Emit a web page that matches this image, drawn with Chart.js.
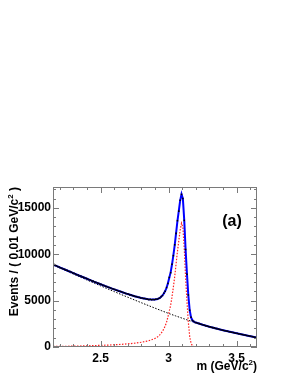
<!DOCTYPE html>
<html>
<head>
<meta charset="utf-8">
<script src="https://cdn.jsdelivr.net/npm/chart.js@4.4.1/dist/chart.umd.min.js"></script>
<style>
  html, body { margin: 0; padding: 0; background: #fff; }
  canvas { display: block; }
</style>
</head>
<body>
<canvas id="mass-chart" width="291" height="376"></canvas>
<script>
// bin centres, 0.01 GeV/c^2 wide
const massBins = [
  2.155, 2.165, 2.175, 2.185, 2.195, 2.205, 2.215, 2.225, 2.235, 2.245,
  2.255, 2.265, 2.275, 2.285, 2.295, 2.305, 2.315, 2.325, 2.335, 2.345,
  2.355, 2.365, 2.375, 2.385, 2.395, 2.405, 2.415, 2.425, 2.435, 2.445,
  2.455, 2.465, 2.475, 2.485, 2.495, 2.505, 2.515, 2.525, 2.535, 2.545,
  2.555, 2.565, 2.575, 2.585, 2.595, 2.605, 2.615, 2.625, 2.635, 2.645,
  2.655, 2.665, 2.675, 2.685, 2.695, 2.705, 2.715, 2.725, 2.735, 2.745,
  2.755, 2.765, 2.775, 2.785, 2.795, 2.805, 2.815, 2.825, 2.835, 2.845,
  2.855, 2.865, 2.875, 2.885, 2.895, 2.905, 2.915, 2.925, 2.935, 2.945,
  2.955, 2.965, 2.975, 2.985, 2.995, 3.005, 3.015, 3.025, 3.035, 3.045,
  3.055, 3.065, 3.075, 3.085, 3.095, 3.105, 3.115, 3.125, 3.135, 3.145,
  3.155, 3.165, 3.175, 3.185, 3.195, 3.205, 3.215, 3.225, 3.235, 3.245,
  3.255, 3.265, 3.275, 3.285, 3.295, 3.305, 3.315, 3.325, 3.335, 3.345,
  3.355, 3.365, 3.375, 3.385, 3.395, 3.405, 3.415, 3.425, 3.435, 3.445,
  3.455, 3.465, 3.475, 3.485, 3.495, 3.505, 3.515, 3.525, 3.535, 3.545,
  3.555, 3.565, 3.575, 3.585, 3.595, 3.605, 3.615, 3.625, 3.635, 3.645
];

// data points
const events = [
  8930, 8800, 8760, 8660, 8630, 8530, 8500, 8410, 8380, 8290,
  8260, 8160, 8130, 8070, 7980, 7940, 7880, 7790, 7760, 7660,
  7650, 7550, 7520, 7430, 7400, 7340, 7240, 7220, 7130, 7100,
  7010, 6980, 6900, 6870, 6780, 6750, 6670, 6640, 6550, 6520,
  6450, 6410, 6370, 6280, 6250, 6200, 6120, 6090, 6010, 5990,
  5950, 5870, 5840, 5770, 5740, 5700, 5620, 5610, 5540, 5510,
  5450, 5430, 5370, 5350, 5290, 5280, 5230, 5220, 5170, 5160,
  5110, 5140, 5090, 5130, 5100, 5150, 5140, 5230, 5270, 5430,
  5550, 5790, 6010, 6410, 6850, 7500, 8010, 8920, 9850, 11020,
  12250, 13620, 14650, 15820, 16450, 16020, 13650, 10510, 7850, 5610,
  3960, 3210, 2860, 2760, 2640, 2620, 2560, 2520, 2460, 2430,
  2370, 2340, 2280, 2250, 2200, 2170, 2120, 2090, 2060, 2000,
  1980, 1930, 1900, 1870, 1820, 1790, 1750, 1720, 1700, 1650,
  1620, 1580, 1560, 1520, 1490, 1470, 1420, 1400, 1360, 1340,
  1300, 1280, 1240, 1220, 1180, 1150, 1120, 1090, 1060, 1030
];

// total fit (blue)
const fitMass = [
  2.15, 2.20, 2.25, 2.30, 2.35, 2.40, 2.45, 2.50, 2.55, 2.60, 2.65, 2.70, 2.75, 2.80, 2.85,
  2.875, 2.90, 2.92, 2.935, 2.945, 2.955, 2.965, 2.975, 2.985, 2.995,
  3.005, 3.015, 3.025, 3.035, 3.045, 3.055, 3.065, 3.075, 3.085, 3.095,
  3.105, 3.115, 3.125, 3.135, 3.145, 3.155, 3.165, 3.175, 3.185,
  3.20, 3.25, 3.30, 3.35, 3.40, 3.45, 3.50, 3.55, 3.60, 3.65
];
const fitEvents = [
  8910, 8590, 8272, 7961, 7653, 7353, 7056, 6767, 6486, 6213, 5953, 5706, 5477, 5281, 5138,
  5113, 5118, 5173, 5287, 5410, 5573, 5767, 6030, 6384, 6878,
  7474, 8042, 8890, 9888, 10986, 12284, 13583, 14683, 15781, 16480,
  15980, 13680, 10480, 7880, 5580, 3982, 3185, 2878, 2741,
  2635, 2398, 2185, 1990, 1805, 1635, 1475, 1320, 1165, 1010
];

// background (black dashed)
const bgMass = [
  2.15, 2.20, 2.25, 2.30, 2.35, 2.40, 2.45, 2.50, 2.55, 2.60, 2.65, 2.70, 2.75, 2.80, 2.85, 2.90,
  2.95, 3.00, 3.05, 3.10, 3.15, 3.20, 3.25, 3.30, 3.35, 3.40, 3.45, 3.50, 3.55, 3.60, 3.65
];
const bgEvents = [
  8850, 8520, 8192, 7866, 7543, 7223, 6906, 6592, 6281, 5973, 5668, 5366, 5067, 4771, 4478, 4188,
  3901, 3620, 3360, 3105, 2855, 2620, 2395, 2185, 1990, 1805, 1635, 1475, 1320, 1165, 1010
];

// signal (red dotted)
const sigMass = [
  2.15, 2.20, 2.25, 2.30, 2.35, 2.40, 2.45, 2.50, 2.55, 2.60, 2.65, 2.70, 2.75, 2.80, 2.85,
  2.875, 2.90, 2.92, 2.935, 2.945, 2.955, 2.965, 2.975, 2.985, 2.995,
  3.005, 3.015, 3.025, 3.035, 3.045, 3.055, 3.065, 3.075, 3.085, 3.095,
  3.105, 3.115, 3.125, 3.135, 3.145, 3.155, 3.165, 3.175, 3.185,
  3.20, 3.25, 3.30, 3.40, 3.50, 3.65
];
const sigEvents = [
  60, 70, 80, 95, 110, 130, 150, 175, 205, 240, 285, 340, 410, 510, 660,
  780, 930, 1100, 1300, 1480, 1700, 1950, 2270, 2680, 3230,
  3880, 4500, 5400, 6450, 7600, 8950, 10300, 11450, 12600, 13350,
  12900, 10650, 7500, 4950, 2700, 1150, 400, 140, 50,
  15, 3, 0, 0, 0, 0
];

const xMajorTicks = [2.5, 3, 3.5];
const xMinorTicks = [2.2, 2.3, 2.4, 2.6, 2.7, 2.8, 2.9, 3.1, 3.2, 3.3, 3.4, 3.6];
const yMajorTicks = [0, 5000, 10000, 15000];
const yMinorTicks = [1000, 2000, 3000, 4000, 6000, 7000, 8000, 9000, 11000, 12000, 13000, 14000, 16000, 17000];

const FONT = 'Liberation Sans, Arial, Helvetica, sans-serif';

const toXY = (xs, ys) => xs.map((x, i) => ({ x: x, y: ys[i] }));

// text with a superscript in the middle, right-aligned at (0,0)
const drawSupText = (ctx, before, sup, after, size) => {
  const supSize = Math.round(size * 0.7);
  ctx.font = 'bold ' + size + 'px ' + FONT;
  const w1 = ctx.measureText(before).width;
  const w3 = ctx.measureText(after).width;
  ctx.font = 'bold ' + supSize + 'px ' + FONT;
  const w2 = ctx.measureText(sup).width;
  let x = -(w1 + w2 + w3);
  ctx.textAlign = 'left';
  ctx.textBaseline = 'alphabetic';
  ctx.font = 'bold ' + size + 'px ' + FONT;
  ctx.fillText(before, x, 0);
  x += w1;
  ctx.font = 'bold ' + supSize + 'px ' + FONT;
  ctx.fillText(sup, x, -size * 0.42);
  x += w2;
  ctx.font = 'bold ' + size + 'px ' + FONT;
  ctx.fillText(after, x, 0);
};

// frame, inside ticks and titles like the ROOT canvas
const framePlugin = {
  id: 'frame',
  afterDraw(chart) {
    const ctx = chart.ctx;
    const a = chart.chartArea;
    const xs = chart.scales.x;
    const ys = chart.scales.y;
    ctx.save();
    ctx.strokeStyle = '#7a7a7a';
    ctx.lineWidth = 1;
    ctx.strokeRect(a.left + 0.5, a.top + 0.5, a.right - a.left - 1, a.bottom - a.top - 1);

    const xTick = (v, len) => {
      const px = Math.round(xs.getPixelForValue(v)) + 0.5;
      ctx.beginPath();
      ctx.moveTo(px, a.bottom); ctx.lineTo(px, a.bottom - len);
      ctx.moveTo(px, a.top); ctx.lineTo(px, a.top + len);
      ctx.stroke();
    };
    const yTick = (v, len) => {
      const py = Math.round(ys.getPixelForValue(v)) + 0.5;
      ctx.beginPath();
      ctx.moveTo(a.left, py); ctx.lineTo(a.left + len, py);
      ctx.moveTo(a.right, py); ctx.lineTo(a.right - len, py);
      ctx.stroke();
    };
    xMajorTicks.forEach(v => xTick(v, 6));
    xMinorTicks.forEach(v => xTick(v, 3));
    yMajorTicks.forEach(v => yTick(v, 6));
    yMinorTicks.forEach(v => yTick(v, 3));

    ctx.fillStyle = '#000';
    // x title
    ctx.save();
    ctx.translate(a.right, 370);
    drawSupText(ctx, 'm (GeV/c', '2', ')', 12);
    ctx.restore();
    // y title
    ctx.save();
    ctx.translate(18, a.top);
    ctx.rotate(-Math.PI / 2);
    drawSupText(ctx, 'Events / ( 0.01 GeV/c', '2', ' )', 12);
    ctx.restore();
    // panel label
    ctx.font = 'bold 16px ' + FONT;
    ctx.textAlign = 'center';
    ctx.textBaseline = 'middle';
    ctx.fillText('(a)', 232, 222);
    ctx.restore();
  }
};

const chart = new Chart(document.getElementById('mass-chart'), {
  type: 'line',
  data: {
    datasets: [
      {
        label: 'data',
        data: toXY(massBins, events),
        showLine: false,
        pointStyle: 'rect',
        pointRadius: 1.1,
        pointBackgroundColor: '#000',
        pointBorderColor: '#000',
        pointBorderWidth: 0,
        order: 0
      },
      {
        label: 'fit',
        data: toXY(fitMass, fitEvents),
        borderColor: '#0000ff',
        borderWidth: 2,
        pointRadius: 0,
        tension: 0,
        order: 1
      },
      {
        label: 'signal',
        data: toXY(sigMass, sigEvents),
        borderColor: '#ff2020',
        borderWidth: 1.2,
        borderDash: [1.5, 1.5],
        pointRadius: 0,
        tension: 0,
        order: 2
      },
      {
        label: 'background',
        data: toXY(bgMass, bgEvents),
        borderColor: '#000',
        borderWidth: 1,
        borderDash: [1.5, 1.5],
        pointRadius: 0,
        tension: 0,
        order: 3
      }
    ]
  },
  options: {
    responsive: false,
    animation: false,
    devicePixelRatio: 1,
    layout: { padding: { left: 0, top: 187, right: 34, bottom: 0 } },
    plugins: {
      legend: { display: false },
      tooltip: { enabled: false }
    },
    scales: {
      x: {
        type: 'linear',
        min: 2.15,
        max: 3.65,
        grid: { display: false, drawTicks: false },
        border: { display: false },
        afterBuildTicks: s => { s.ticks = xMajorTicks.map(v => ({ value: v })); },
        afterFit: s => { s.height = 29; },
        ticks: {
          padding: 4,
          maxRotation: 0,
          color: '#000',
          font: { family: FONT, size: 12, weight: 'bold' },
          callback: v => String(v)
        }
      },
      y: {
        min: 0,
        max: 17250,
        grid: { display: false, drawTicks: false },
        border: { display: false },
        afterBuildTicks: s => { s.ticks = yMajorTicks.map(v => ({ value: v })); },
        afterFit: s => { s.width = 53; },
        ticks: {
          padding: 2,
          color: '#000',
          font: { family: FONT, size: 12, weight: 'bold' },
          callback: v => String(v)
        }
      }
    }
  },
  plugins: [framePlugin]
});
</script>
</body>
</html>
